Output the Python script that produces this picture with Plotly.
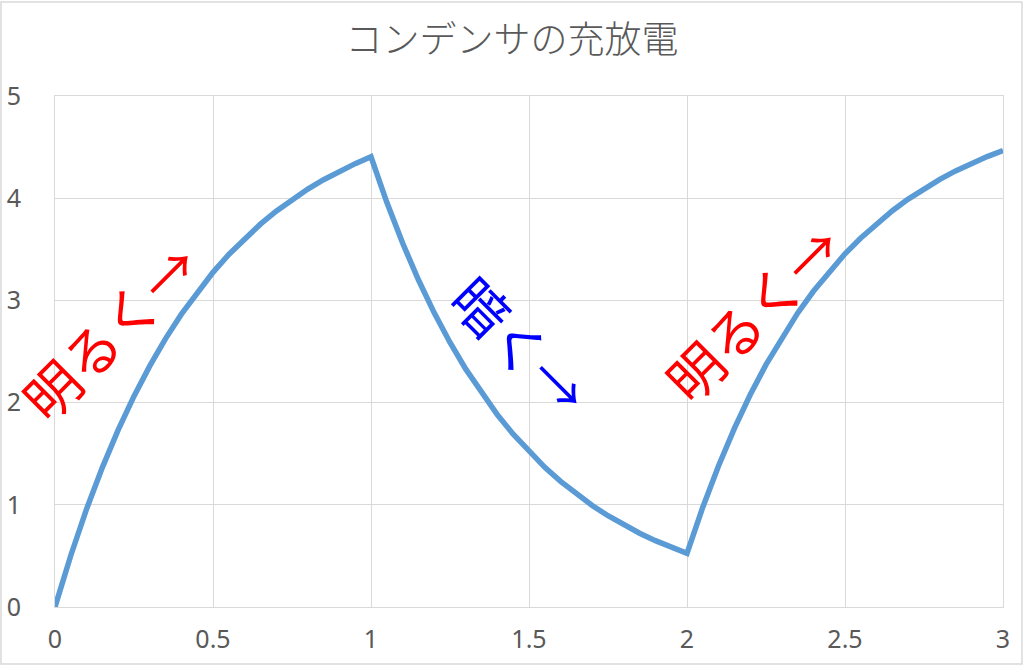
import plotly.graph_objects as go

# time (s) and capacitor voltage (V)
t = [0.00, 0.05, 0.10, 0.15, 0.20, 0.25, 0.30, 0.35, 0.40, 0.45,
     0.50, 0.55, 0.60, 0.65, 0.70, 0.75, 0.80, 0.85, 0.90, 0.95,
     1.00, 1.05, 1.10, 1.15, 1.20, 1.25, 1.30, 1.35, 1.40, 1.45,
     1.50, 1.55, 1.60, 1.65, 1.70, 1.75, 1.80, 1.85, 1.90, 1.95,
     2.00, 2.05, 2.10, 2.15, 2.20, 2.25, 2.30, 2.35, 2.40, 2.45,
     2.50, 2.55, 2.60, 2.65, 2.70, 2.75, 2.80, 2.85, 2.90, 2.95,
     3.00]
v = [0.000, 0.504, 0.959, 1.366, 1.733, 2.063, 2.359, 2.626, 2.865, 3.081,
     3.275, 3.449, 3.605, 3.746, 3.873, 3.986, 4.089, 4.181, 4.263, 4.338,
     4.405, 3.960, 3.561, 3.202, 2.878, 2.588, 2.327, 2.092, 1.881, 1.691,
     1.520, 1.367, 1.229, 1.105, 0.993, 0.893, 0.803, 0.722, 0.649, 0.584,
     0.525, 0.977, 1.383, 1.748, 2.076, 2.371, 2.636, 2.875, 3.089, 3.282,
     3.456, 3.611, 3.751, 3.878, 3.991, 4.093, 4.184, 4.267, 4.340, 4.407,
     4.467]

x_ticks = [0, 0.5, 1, 1.5, 2, 2.5, 3]
x_labels = ["0", "0.5", "1", "1.5", "2", "2.5", "3"]
y_ticks = [0, 1, 2, 3, 4, 5]

notes = ["明るく→", "暗く→", "明るく→"]
note_x = [0.172, 1.476, 2.205]
note_y = [2.71, 2.57, 2.89]
note_angle = [-45, 45, -45]
note_color = ["#ff0000", "#0000ff", "#ff0000"]

fig = go.Figure()
fig.add_trace(go.Scatter(x=t, y=v, mode="lines",
                         line=dict(color="#5b9bd5", width=5.5),
                         showlegend=False))

for txt, ax, ay, ang, col in zip(notes, note_x, note_y, note_angle, note_color):
    fig.add_annotation(x=ax, y=ay, text=txt, showarrow=False, textangle=ang,
                       font=dict(family="Noto Sans CJK JP", size=55, color=col))

grid = "#d9d9d9"
tickfont = dict(family="Noto Sans", size=25, color="#595959")

fig.update_xaxes(range=[0, 3], tickvals=x_ticks, ticktext=x_labels,
                 showgrid=True, gridcolor=grid, gridwidth=1, zeroline=False,
                 showline=True, linecolor=grid, mirror=True, automargin=False,
                 ticks="", tickfont=tickfont, ticklabelstandoff=10)
fig.update_yaxes(range=[0, 5], tickvals=y_ticks, automargin=False,
                 showgrid=True, gridcolor=grid, gridwidth=1, zeroline=False,
                 showline=True, linecolor=grid, mirror=True,
                 ticks="", tickfont=tickfont, ticklabelstandoff=28)

# light border round the whole chart area
fig.add_shape(type="rect", xref="paper", yref="paper",
              x0=-54 / 948, x1=967 / 948, y0=-57 / 511, y1=605 / 511,
              line=dict(color=grid, width=1.5), layer="below")

fig.update_layout(
    width=1024, height=666,
    title=dict(text="コンデンサの充放電", x=0.5, xanchor="center", y=0.94,
               yanchor="middle",
               font=dict(family="Noto Sans CJK JP", size=37, color="#595959",
                         weight=300)),
    plot_bgcolor="white", paper_bgcolor="white",
    margin=dict(l=55, r=21, t=96, b=59),
)

fig.write_html("out.html", config={"displayModeBar": False},
               post_script="document.body.style.margin='0';")
